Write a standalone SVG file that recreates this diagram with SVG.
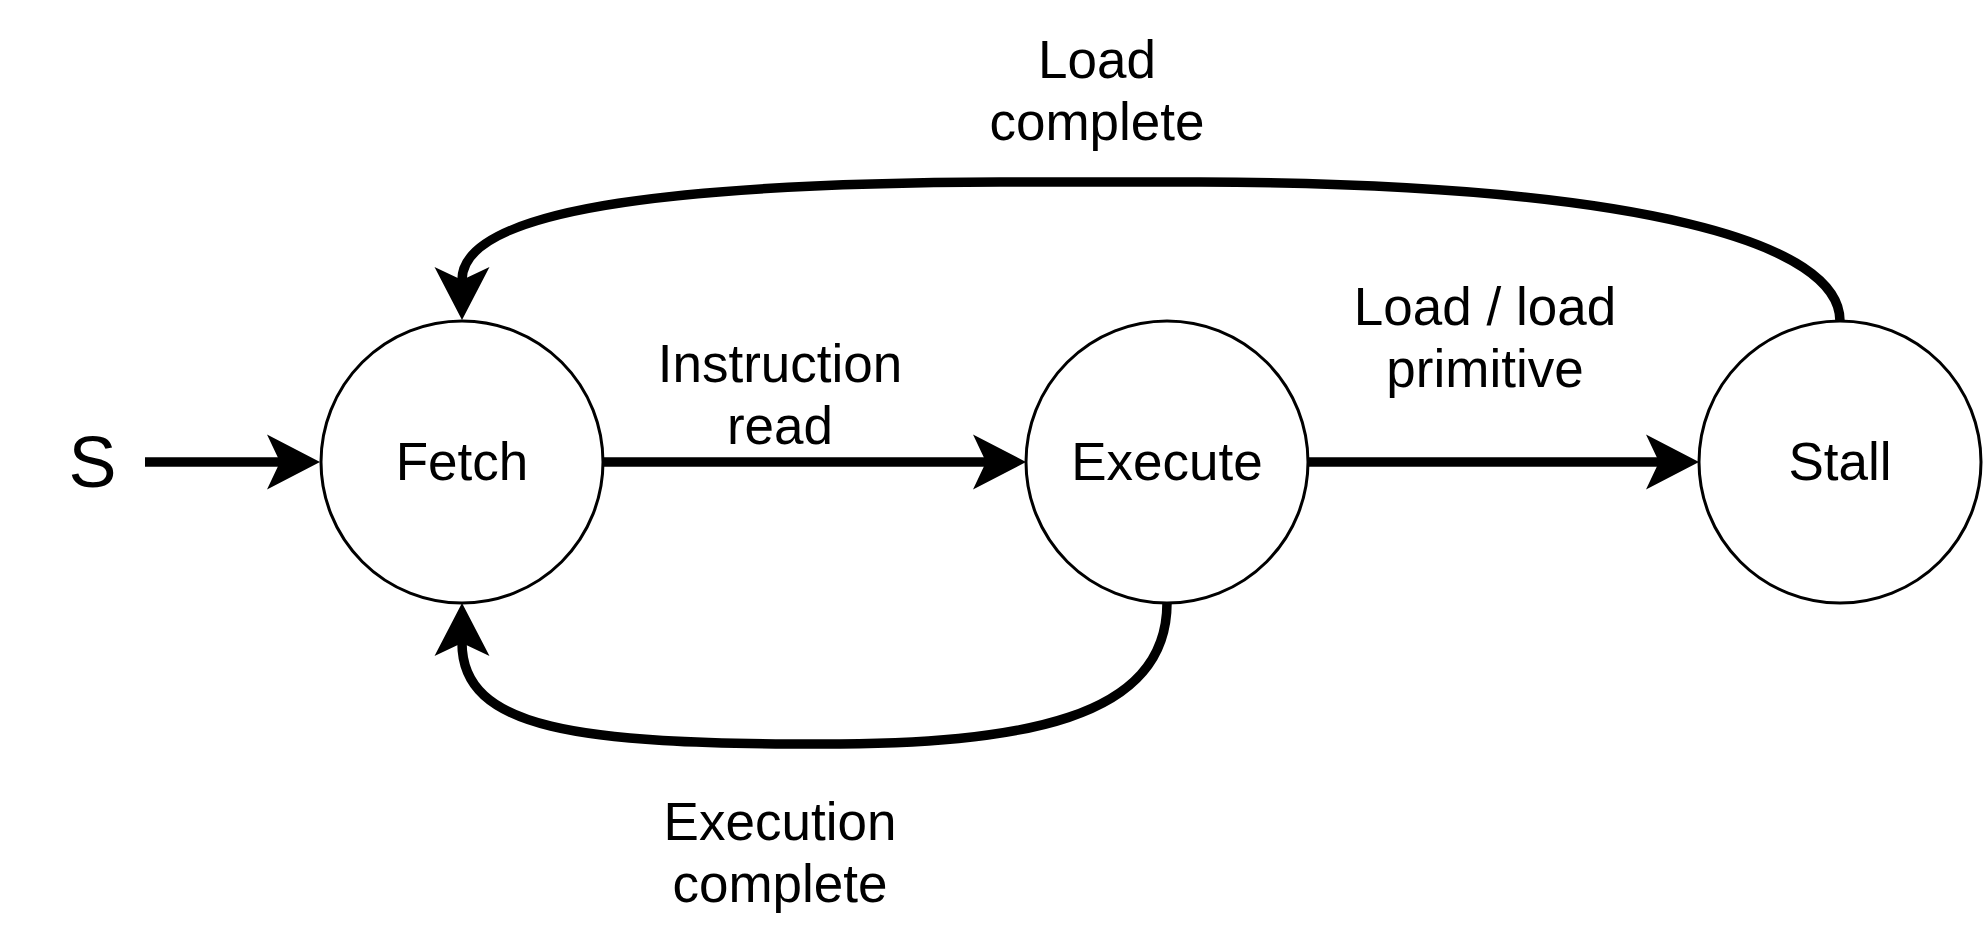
<svg xmlns="http://www.w3.org/2000/svg" width="1984" height="925" viewBox="0 0 1984 925">
<style>
.node{fill:#ffffff;stroke:#000000;stroke-width:3}
.lbl{font-family:"Liberation Sans",Arial,Helvetica,sans-serif;font-size:53px;fill:#000000;text-anchor:middle}
.edge{fill:none;stroke:#000000;stroke-width:9.5}
</style>
<defs>
<marker id="arr" markerUnits="userSpaceOnUse" markerWidth="60" markerHeight="60" viewBox="-56 -30 60 60" refX="-40" refY="0" orient="auto" overflow="visible">
<path d="M0 0 L-53 -27.5 L-40 0 L-53 27.5 Z" fill="#000000"/>
</marker>
</defs>
<rect width="1984" height="925" fill="#ffffff"/>
<g id="start">
<text class="lbl" x="92.5" y="487" style="font-size:72px">S</text>
</g>
<g id="connectors">
<path class="edge" d="M145 462 L280 462" marker-end="url(#arr)"/>
<path class="edge" d="M603 462 L986 462" marker-end="url(#arr)"/>
<path class="edge" d="M1308 462 L1659 462" marker-end="url(#arr)"/>
<path class="edge" d="M1840 321 C1840 245 1650 184 1200 182 L1000 182 C700 183 462 205 462 280" marker-end="url(#arr)"/>
<path class="edge" d="M1167 603 C1167 720 1020 744 820 744 C580 744 462 730 462 643" marker-end="url(#arr)"/>
</g>
<g id="fetch">
<circle class="node" cx="462" cy="462" r="141"/>
<text class="lbl" x="462" y="480">Fetch</text>
</g>
<g id="execute">
<circle class="node" cx="1167" cy="462" r="141"/>
<text class="lbl" x="1167" y="480">Execute</text>
</g>
<g id="stall">
<circle class="node" cx="1840" cy="462" r="141"/>
<text class="lbl" x="1840" y="480">Stall</text>
</g>
<g id="labels">
<text class="lbl" x="780" y="382">Instruction</text>
<text class="lbl" x="780" y="444">read</text>
<text class="lbl" x="1485" y="325">Load / load</text>
<text class="lbl" x="1485" y="387">primitive</text>
<text class="lbl" x="1097" y="78">Load</text>
<text class="lbl" x="1097" y="140">complete</text>
<text class="lbl" x="780" y="840">Execution</text>
<text class="lbl" x="780" y="902">complete</text>
</g>
</svg>
